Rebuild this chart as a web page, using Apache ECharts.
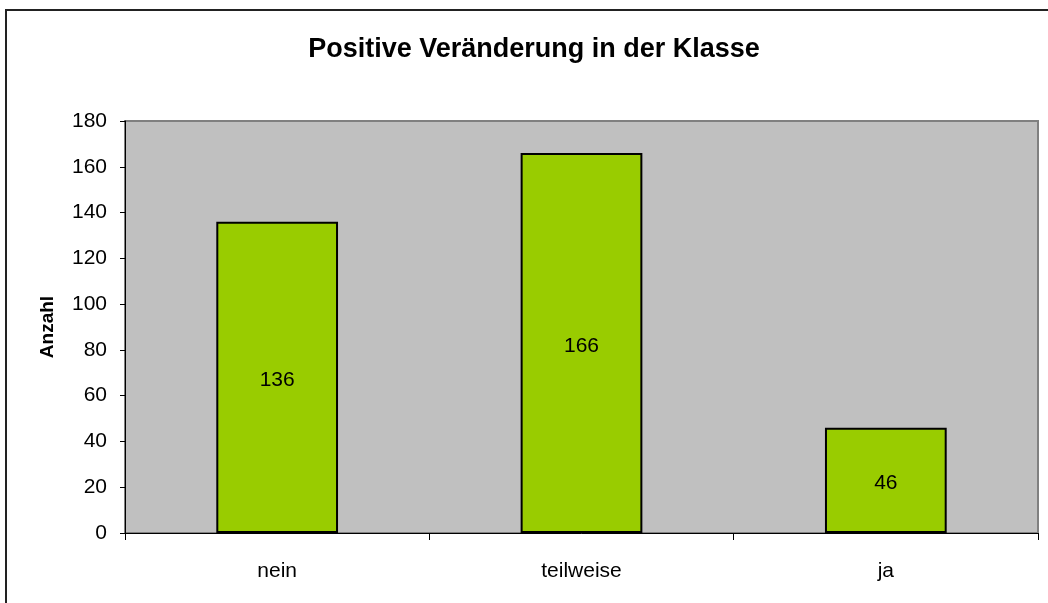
<!DOCTYPE html>
<html>
<head>
<meta charset="utf-8">
<script src="https://cdn.jsdelivr.net/npm/echarts@6/dist/echarts.min.js"></script>
<style>
  html, body { margin: 0; padding: 0; background: #fff; }
  #chart { width: 1048px; height: 603px; }
</style>
</head>
<body>
<div id="chart"></div>
<script>
const categories = ['nein', 'teilweise', 'ja']
const anzahl = [136, 166, 46]
const titleText = 'Positive Veränderung in der Klasse'
const yAxisName = 'Anzahl'

const myChart = echarts.init(document.getElementById('chart'))
const font = 'Liberation Sans, Arial, sans-serif'

const option = {
  backgroundColor: '#ffffff',
  animation: false,
  title: {
    text: titleText,
    left: 529,
    top: 31,
    textAlign: 'center',
    textStyle: {
      fontFamily: font,
      fontSize: 27,
      fontWeight: 'bold',
      color: '#000'
    }
  },
  graphic: [
    {
      type: 'rect',
      shape: { x: 6, y: 10, width: 1100, height: 700 },
      style: { fill: 'none', stroke: '#222', lineWidth: 2 },
      silent: true
    }
  ],
  grid: {
    left: 125,
    top: 121,
    right: 10,
    bottom: 70,
    show: true,
    backgroundColor: '#c0c0c0',
    borderColor: '#808080',
    borderWidth: 2
  },
  xAxis: {
    type: 'category',
    data: categories,
    axisLine: { lineStyle: { color: '#000', width: 1 } },
    axisTick: { show: true, length: 7, alignWithLabel: false, lineStyle: { color: '#000' } },
    axisLabel: {
      color: '#000',
      fontFamily: font,
      fontSize: 21,
      margin: 28
    }
  },
  yAxis: {
    type: 'value',
    min: 0,
    max: 180,
    interval: 20,
    name: yAxisName,
    nameLocation: 'middle',
    nameGap: 68,
    nameTextStyle: {
      fontFamily: font,
      fontSize: 19,
      fontWeight: 'bold',
      color: '#000'
    },
    axisLine: { show: true, lineStyle: { color: '#000', width: 1 } },
    axisTick: { show: true, length: 5, lineStyle: { color: '#000' } },
    axisLabel: {
      color: '#000',
      fontFamily: font,
      fontSize: 21,
      margin: 18
    },
    splitLine: { show: false }
  },
  series: [
    {
      type: 'bar',
      data: anzahl,
      barWidth: '40%',
      itemStyle: {
        color: '#99cc00',
        borderColor: '#000',
        borderWidth: 2
      },
      label: {
        show: true,
        position: 'inside',
        offset: [0, 3],
        color: '#000',
        fontFamily: font,
        fontSize: 21
      }
    }
  ]
}
myChart.setOption(option)
</script>
</body>
</html>
